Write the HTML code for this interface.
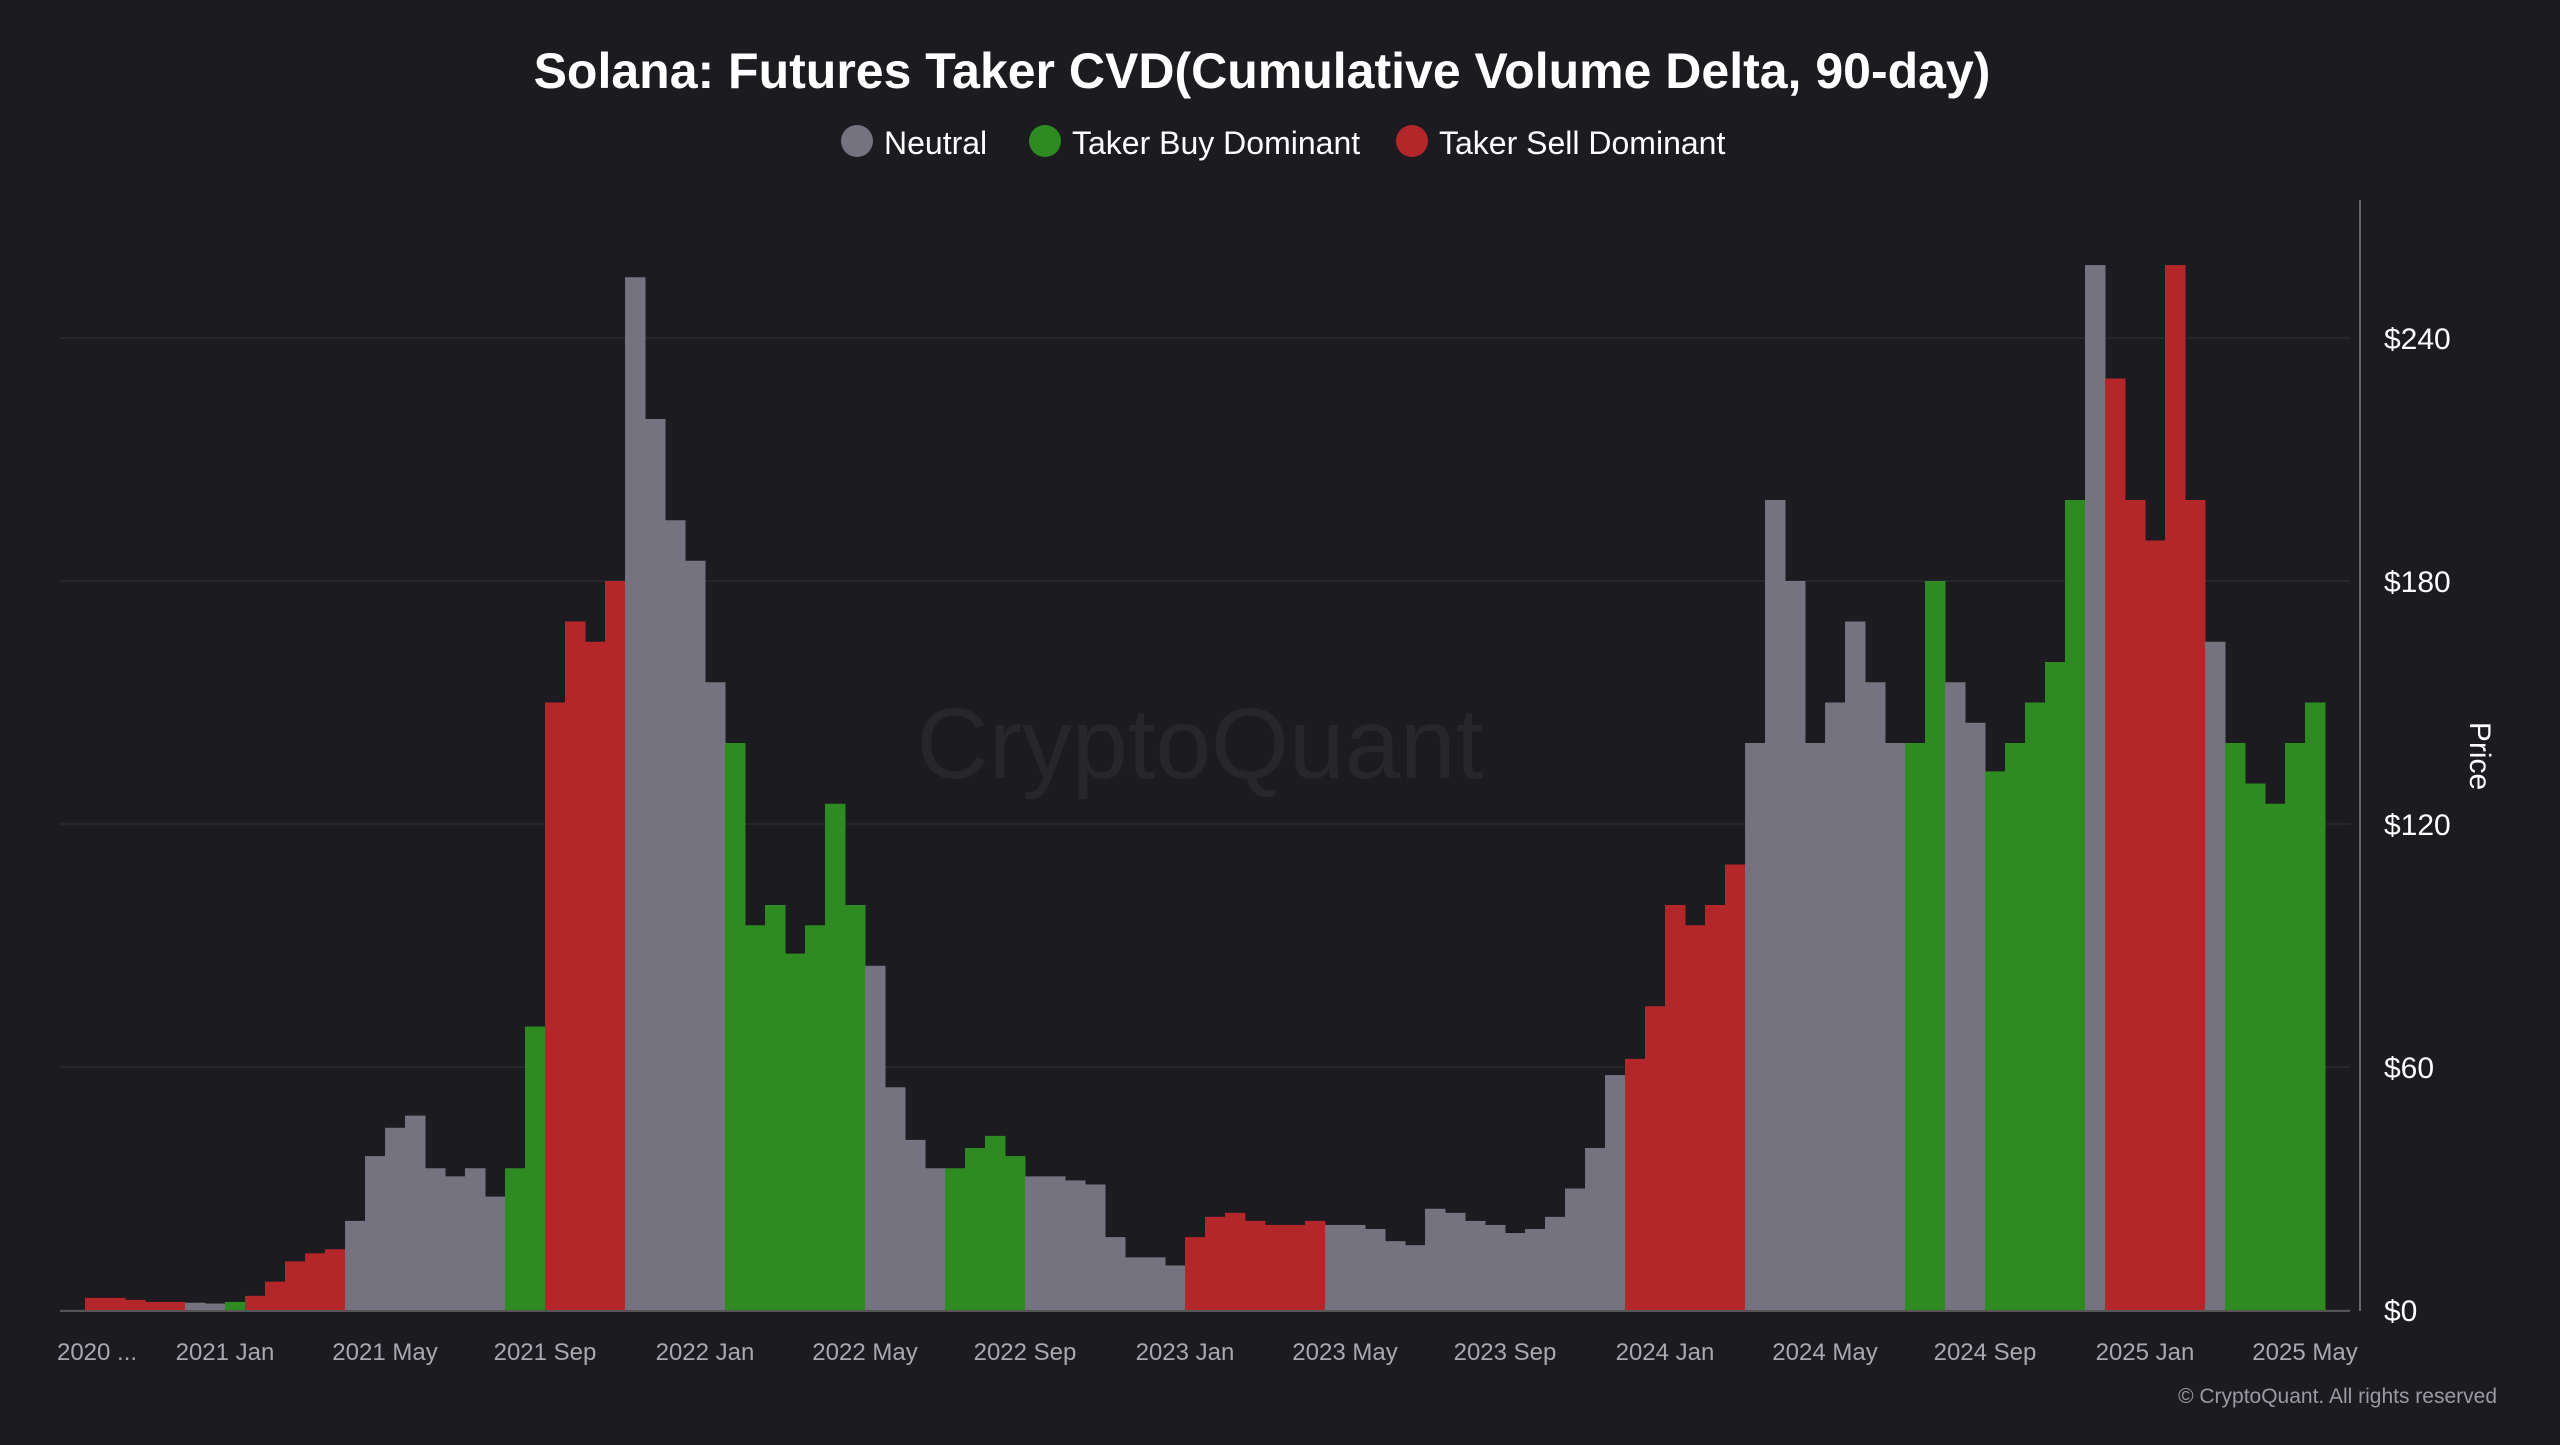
<!DOCTYPE html>
<html><head><meta charset="utf-8"><style>
body{margin:0;background:#1b1b20;width:2560px;height:1440px;overflow:hidden;font-family:"Liberation Sans",sans-serif;}
</style></head><body>
<svg id="chart" width="2560" height="1440" xmlns="http://www.w3.org/2000/svg">
<rect width="2560" height="1440" fill="#1b1b20"/>
<text x="1262" y="88" text-anchor="middle" font-size="50" font-weight="bold" fill="#ffffff">Solana: Futures Taker CVD(Cumulative Volume Delta, 90-day)</text>
<g font-size="32" fill="#ffffff">
<g><circle cx="857" cy="141" r="16" fill="#74737f"/><text x="884" y="154">Neutral</text></g>
<g><circle cx="1045" cy="141" r="16" fill="#2e8b22"/><text x="1072" y="154">Taker Buy Dominant</text></g>
<g><circle cx="1412" cy="141" r="16" fill="#b3262a"/><text x="1439" y="154">Taker Sell Dominant</text></g>
</g>
<text x="1200" y="778" text-anchor="middle" font-size="100" fill="#26262b">CryptoQuant</text>
<g id="grid"></g>
<g id="bars"></g>
<line x1="60" y1="1311" x2="2350" y2="1311" stroke="#555" stroke-width="2"/>
<line x1="2360" y1="200" x2="2360" y2="1311" stroke="#666" stroke-width="2"/>
<g id="yticks"></g>
<g id="xticks"></g>
<text transform="translate(2470,756) rotate(90)" text-anchor="middle" font-size="30" fill="#ffffff">Price</text>
<text x="2497" y="1403" text-anchor="end" font-size="21" fill="#9a9aa2">© CryptoQuant. All rights reserved</text>
</svg>
<script>
const prices=[3,3,2.5,2,2,1.8,1.6,2,3.5,7,12,14,15,22,38,45,48,35,33,35,28,35,70,150,170,165,180,255,220,195,185,155,140,95,100,88,95,125,100,85,55,42,35,35,40,43,38,33,33,32,31,18,13,13,11,18,23,24,22,21,21,22,21,21,20,17,16,25,24,22,21,19,20,23,30,40,58,62,75,100,95,100,110,140,200,180,140,150,170,155,140,140,180,155,145,133,140,150,160,200,258,230,200,190,258,200,165,140,130,125,140,150];
const regimes=['S','S','S','S','S','N','N','B','S','S','S','S','S','N','N','N','N','N','N','N','N','B','B','S','S','S','S','N','N','N','N','N','B','B','B','B','B','B','B','N','N','N','N','B','B','B','B','N','N','N','N','N','N','N','N','S','S','S','S','S','S','S','N','N','N','N','N','N','N','N','N','N','N','N','N','N','N','S','S','S','S','S','S','N','N','N','N','N','N','N','N','B','B','N','N','B','B','B','B','B','N','S','S','S','S','S','N','B','B','B','B','B'];
const yTicks=[0,60,120,180,240];
const xTickLabels=['2020 ...','2021 Jan','2021 May','2021 Sep','2022 Jan','2022 May','2022 Sep','2023 Jan','2023 May','2023 Sep','2024 Jan','2024 May','2024 Sep','2025 Jan','2025 May'];
const xTickMonths=[-3.2,0,4,8,12,16,20,24,28,32,36,40,44,48,52];
const startMonth=-3.5;
const colors={N:'#74737f',B:'#2e8b22',S:'#b3262a'};
const NS='http://www.w3.org/2000/svg';
function xScale(m){return 225+40*m;}
function yScale(p){return 1310-p*(972/240);}
const grid=document.getElementById('grid'),yt=document.getElementById('yticks'),xt=document.getElementById('xticks'),bars=document.getElementById('bars');
yTicks.forEach(v=>{
 const l=document.createElementNS(NS,'line');
 
 
 l.setAttribute('x1',60);l.setAttribute('x2',2350);l.setAttribute('y1',yScale(v));l.setAttribute('y2',yScale(v));
 l.setAttribute('stroke','#2a2a30');l.setAttribute('stroke-width',1.5);grid.appendChild(l);
 const t=document.createElementNS(NS,'text');
 
 
 t.setAttribute('x',2384);t.setAttribute('y',yScale(v)+11);t.setAttribute('font-size',30);t.setAttribute('fill','#fff');
 t.textContent='$'+v;yt.appendChild(t);
});
xTickLabels.forEach((lab,i)=>{
 const t=document.createElementNS(NS,'text');
 
 
 t.setAttribute('x',xScale(xTickMonths[i]));t.setAttribute('y',1360);t.setAttribute('text-anchor','middle');
 t.setAttribute('font-size',24);t.setAttribute('fill','#a8a8b0');t.textContent=lab;xt.appendChild(t);
});
const w=20;
prices.forEach((p,i)=>{
 const m=startMonth+i*0.5;
 const r=document.createElementNS(NS,'rect');
 
 
 r.setAttribute('x',xScale(m));r.setAttribute('width',w+0.5);
 r.setAttribute('y',yScale(p));r.setAttribute('height',yScale(0)-yScale(p));
 r.setAttribute('fill',colors[regimes[i]]||colors.N);bars.appendChild(r);
});
</script>
</body></html>
